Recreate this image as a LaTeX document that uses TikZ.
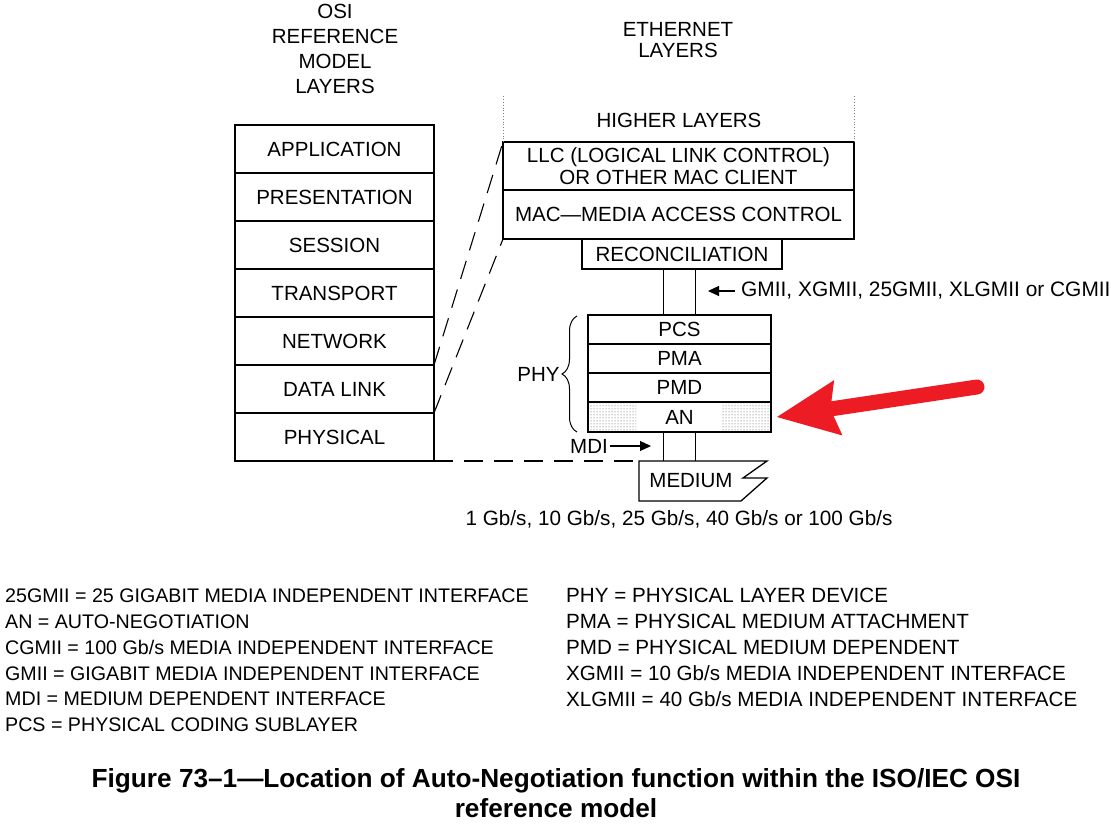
\documentclass[tikz,border=0pt]{standalone}
\usepackage{fontspec}
\setmainfont{Liberation Sans}
\usepackage{xcolor}
\usepackage{tikz}
\usetikzlibrary{arrows.meta,calc,decorations.pathreplacing,patterns,positioning}
\definecolor{anred}{RGB}{237,28,36}

\begin{document}
\begin{tikzpicture}[
  x=1pt,y=-1pt,
  every node/.style={font=\fontsize{20.5}{22}\selectfont,inner sep=0pt},
  line/.style={line width=1.3pt},
  layer/.style={draw,line width=1.3pt,outer sep=0pt,minimum width=199pt,minimum height=48pt},
  sublayer/.style={draw,line width=1.3pt,outer sep=0pt,minimum width=183pt,minimum height=29pt},
  dlink/.style={line width=1.1pt,dash pattern=on 19pt off 11pt},
  tri/.style={line width=1.1pt,-{Triangle[length=11pt,width=10pt]}},
  legend/.style={anchor=west,align=left,font=\fontsize{19.65}{25.8}\selectfont}
]
  \useasboundingbox (0,0) rectangle (1111,826);

  % OSI reference model
  \node[align=center,font=\fontsize{20.5}{25}\selectfont] (osihead) at (335,48.5)
    {OSI\\REFERENCE\\MODEL\\LAYERS};
  \node[layer] (app) at (334.5,149) {APPLICATION};
  \node[layer,below=0pt of app] (pres) {PRESENTATION};
  \node[layer,below=0pt of pres] (sess) {SESSION};
  \node[layer,below=0pt of sess] (trans) {TRANSPORT};
  \node[layer,below=0pt of trans] (netw) {NETWORK};
  \node[layer,below=0pt of netw] (datalink) {DATA LINK};
  \node[layer,below=0pt of datalink] (phys) {PHYSICAL};

  % Ethernet layers
  \node[align=center,font=\fontsize{20.5}{21}\selectfont] (ethhead) at (678,40.5)
    {ETHERNET\\LAYERS};
  \node (higher) at (679,120) {HIGHER LAYERS};
  \node[layer,minimum width=351pt,align=center] (llc) at (678.5,166)
    {LLC (LOGICAL LINK CONTROL)\\OR OTHER MAC CLIENT};
  \node[layer,minimum width=351pt,minimum height=49pt,below=0pt of llc] (mac)
    {MAC—MEDIA ACCESS CONTROL};
  \node[layer,minimum width=200pt,minimum height=30pt] (recon) at (682,254)
    {RECONCILIATION};
  \draw[dotted,gray,line width=0.8pt] (llc.north west) -- ++(0,-47);
  \draw[dotted,gray,line width=0.8pt] (llc.north east) -- ++(0,-47);

  \fill[pattern=dots,pattern color=black!70] (588,402) rectangle (636,432);
  \fill[pattern=dots,pattern color=black!70] (722,402) rectangle (771,432);
  \node[sublayer] (pcs) at (679.5,329.5) {PCS};
  \node[sublayer,below=0pt of pcs] (pma) {PMA};
  \node[sublayer,below=0pt of pma] (pmd) {PMD};
  \node[sublayer,minimum height=30pt,below=0pt of pmd] (an) {AN};

  \draw[line] ([xshift=-16pt]pcs.north) -- ([xshift=-16pt]pcs.north |- recon.south);
  \draw[line] ([xshift=16pt]pcs.north) -- ([xshift=16pt]pcs.north |- recon.south);

  \node[anchor=west,font=\fontsize{20.9}{22}\selectfont] (gmii) at (741,291)
    {GMII, XGMII, 25GMII, XLGMII or CGMII};
  \coordinate (gmiitip) at (708,291);
  \draw[tri] ([xshift=-6pt]gmii.west) -- (gmiitip);

  \draw[decorate,decoration={brace,amplitude=15pt},line width=1pt]
    (577,432) -- (577,316) node[midway,left=17pt] (phy) {PHY};

  % medium
  \coordinate (medtl) at (639,461);
  \draw[line] ([xshift=-16pt]an.south) -- ([xshift=-16pt]an.south |- medtl);
  \draw[line] ([xshift=16pt]an.south) -- ([xshift=16pt]an.south |- medtl);
  \draw[line] (medtl) -- (767,461) -- (743,478) -- (767,478) -- (741,501)
    -- (639,501) -- cycle;
  \node (medium) at (691,481) {MEDIUM};
  \node (mdi) at (589,446) {MDI};
  \coordinate (mditip) at (651,446);
  \draw[tri] ([xshift=2pt]mdi.east) -- (mditip);
  \node[font=\fontsize{20.7}{22}\selectfont] (speeds) at (679,519)
    {1 Gb/s, 10 Gb/s, 25 Gb/s, 40 Gb/s or 100 Gb/s};

  % mapping between the two columns
  \draw[dlink] (datalink.north east) -- (llc.north west);
  \draw[dlink] (datalink.south east) -- (mac.south west);
  \draw[dlink] (phys.south east) -- (medtl);

  \coordinate (redtail) at (977,387);
  \draw[anred,line width=15pt,line cap=round,
    -{Stealth[length=62pt,width=56pt,inset=8pt,line width=0pt]}]
    (redtail) -- ([xshift=6pt]an.east);

  % abbreviations
  \node[legend] (legleft) at (5,660.5)
    {25GMII = 25 GIGABIT MEDIA INDEPENDENT INTERFACE\\
     AN = AUTO-NEGOTIATION\\
     CGMII = 100 Gb/s MEDIA INDEPENDENT INTERFACE\\
     GMII = GIGABIT MEDIA INDEPENDENT INTERFACE\\
     MDI = MEDIUM DEPENDENT INTERFACE\\
     PCS = PHYSICAL CODING SUBLAYER};
  \node[legend,font=\fontsize{20.6}{25.8}\selectfont] (legright) at (566,647.5)
    {PHY = PHYSICAL LAYER DEVICE\\
     PMA = PHYSICAL MEDIUM ATTACHMENT\\
     PMD = PHYSICAL MEDIUM DEPENDENT\\
     XGMII = 10 Gb/s MEDIA INDEPENDENT INTERFACE\\
     XLGMII = 40 Gb/s MEDIA INDEPENDENT INTERFACE};

  \node[align=center,font=\bfseries\fontsize{26.2}{30}\selectfont] (caption) at (556,793)
    {Figure 73–1—Location of Auto-Negotiation function within the ISO/IEC OSI\\
     reference model};
\end{tikzpicture}
\end{document}
